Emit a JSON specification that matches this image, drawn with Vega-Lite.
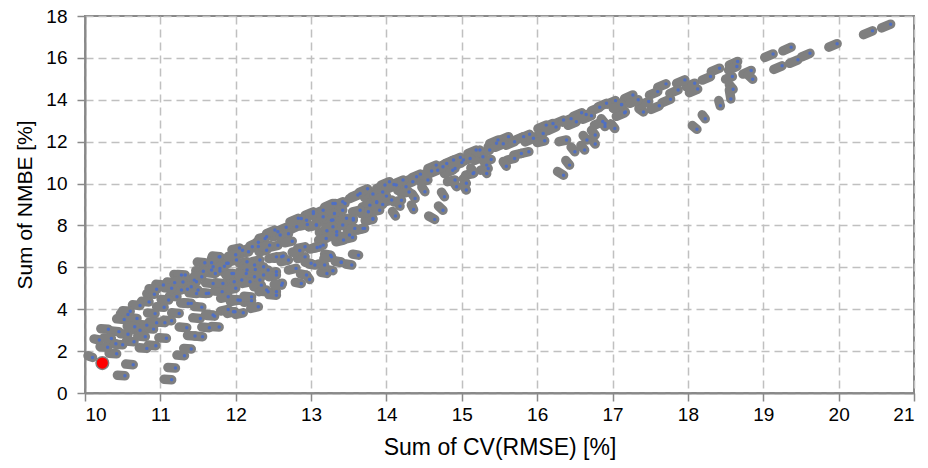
{
  "$schema": "https://vega.github.io/schema/vega-lite/v6.json",
  "width": 829,
  "height": 377,
  "padding": {"left": 85, "top": 16, "right": 14, "bottom": 75},
  "autosize": {"type": "none"},
  "background": "white",
  "config": {
    "view": {"stroke": "#898989", "strokeWidth": 2},
    "axis": {
      "labelFont": "Liberation Sans",
      "titleFont": "Liberation Sans",
      "labelFontSize": 19,
      "titleFontSize": 21,
      "titleFontWeight": "normal",
      "labelColor": "#000000",
      "titleColor": "#000000",
      "domainColor": "#898989",
      "domainWidth": 2,
      "tickColor": "#898989",
      "tickWidth": 1.5,
      "tickSize": 8,
      "gridColor": "#c0c0c0",
      "gridDash": [8, 5],
      "gridWidth": 1.5
    }
  },
  "datasets": {
    "seg": [
      {"x":10.10,"y":1.70,"x2":10.04,"y2":1.78},
      {"x":10.53,"y":0.82,"x2":10.43,"y2":0.85},
      {"x":10.64,"y":1.35,"x2":10.54,"y2":1.38},
      {"x":11.15,"y":0.63,"x2":11.05,"y2":0.66},
      {"x":11.20,"y":1.19,"x2":11.10,"y2":1.22},
      {"x":11.32,"y":1.78,"x2":11.22,"y2":1.81},
      {"x":11.41,"y":2.10,"x2":11.31,"y2":2.13},
      {"x":11.35,"y":3.12,"x2":11.25,"y2":3.15},
      {"x":11.46,"y":2.72,"x2":11.36,"y2":2.75},
      {"x":11.56,"y":2.69,"x2":11.46,"y2":2.72},
      {"x":11.65,"y":3.12,"x2":11.55,"y2":3.15},
      {"x":11.72,"y":3.67,"x2":11.62,"y2":3.70},
      {"x":11.78,"y":3.15,"x2":11.68,"y2":3.18},
      {"x":11.53,"y":3.56,"x2":11.43,"y2":3.59},
      {"x":10.94,"y":2.26,"x2":10.84,"y2":2.29},
      {"x":10.82,"y":2.13,"x2":10.72,"y2":2.16},
      {"x":10.42,"y":1.87,"x2":10.32,"y2":1.90},
      {"x":10.41,"y":2.35,"x2":10.31,"y2":2.38},
      {"x":10.30,"y":2.18,"x2":10.20,"y2":2.21},
      {"x":10.19,"y":2.53,"x2":10.12,"y2":2.58},
      {"x":10.31,"y":3.04,"x2":10.21,"y2":3.07},
      {"x":10.45,"y":2.93,"x2":10.35,"y2":2.96},
      {"x":10.57,"y":2.80,"x2":10.47,"y2":2.83},
      {"x":10.65,"y":2.45,"x2":10.55,"y2":2.48},
      {"x":10.52,"y":3.51,"x2":10.42,"y2":3.54},
      {"x":10.73,"y":4.18,"x2":10.63,"y2":4.21},
      {"x":10.73,"y":3.00,"x2":10.63,"y2":3.03},
      {"x":10.91,"y":3.05,"x2":10.81,"y2":3.08},
      {"x":10.82,"y":3.24,"x2":10.72,"y2":3.27},
      {"x":10.93,"y":3.79,"x2":10.83,"y2":3.82},
      {"x":11.06,"y":3.36,"x2":10.96,"y2":3.39},
      {"x":11.08,"y":2.61,"x2":10.98,"y2":2.64},
      {"x":11.05,"y":4.09,"x2":10.95,"y2":4.12},
      {"x":10.92,"y":4.71,"x2":10.82,"y2":4.74},
      {"x":11.04,"y":5.16,"x2":10.94,"y2":5.19},
      {"x":11.19,"y":5.27,"x2":11.09,"y2":5.30},
      {"x":11.28,"y":5.63,"x2":11.18,"y2":5.66},
      {"x":11.36,"y":4.95,"x2":11.26,"y2":4.98},
      {"x":11.41,"y":4.28,"x2":11.31,"y2":4.31},
      {"x":11.22,"y":4.60,"x2":11.12,"y2":4.63},
      {"x":11.45,"y":5.39,"x2":11.35,"y2":5.42},
      {"x":11.57,"y":5.81,"x2":11.47,"y2":5.84},
      {"x":11.59,"y":6.22,"x2":11.49,"y2":6.25},
      {"x":11.70,"y":6.03,"x2":11.60,"y2":6.06},
      {"x":11.79,"y":6.51,"x2":11.69,"y2":6.54},
      {"x":11.79,"y":5.83,"x2":11.69,"y2":5.86},
      {"x":11.64,"y":4.76,"x2":11.54,"y2":4.79},
      {"x":11.82,"y":4.84,"x2":11.72,"y2":4.87},
      {"x":10.57,"y":3.75,"x2":10.47,"y2":3.78},
      {"x":10.69,"y":3.56,"x2":10.59,"y2":3.59},
      {"x":10.80,"y":2.69,"x2":10.70,"y2":2.72},
      {"x":10.66,"y":3.16,"x2":10.56,"y2":3.19},
      {"x":11.11,"y":4.44,"x2":11.01,"y2":4.47},
      {"x":11.28,"y":4.92,"x2":11.18,"y2":4.95},
      {"x":11.50,"y":4.92,"x2":11.40,"y2":4.95},
      {"x":11.73,"y":5.71,"x2":11.63,"y2":5.74},
      {"x":11.90,"y":6.19,"x2":11.80,"y2":6.22},
      {"x":11.95,"y":5.71,"x2":11.85,"y2":5.74},
      {"x":11.98,"y":5.31,"x2":11.88,"y2":5.23},
      {"x":12.08,"y":5.40,"x2":11.98,"y2":5.32},
      {"x":12.15,"y":6.27,"x2":12.05,"y2":6.19},
      {"x":12.05,"y":6.92,"x2":11.95,"y2":6.84},
      {"x":12.30,"y":6.99,"x2":12.20,"y2":6.91},
      {"x":12.41,"y":7.46,"x2":12.31,"y2":7.38},
      {"x":12.56,"y":7.70,"x2":12.46,"y2":7.62},
      {"x":12.56,"y":7.05,"x2":12.46,"y2":6.97},
      {"x":12.15,"y":5.87,"x2":12.05,"y2":5.79},
      {"x":12.26,"y":5.90,"x2":12.16,"y2":5.82},
      {"x":12.32,"y":5.40,"x2":12.22,"y2":5.32},
      {"x":12.43,"y":5.87,"x2":12.33,"y2":5.79},
      {"x":12.61,"y":6.51,"x2":12.51,"y2":6.43},
      {"x":12.54,"y":5.79,"x2":12.44,"y2":5.71},
      {"x":12.62,"y":5.24,"x2":12.52,"y2":5.16},
      {"x":12.41,"y":4.92,"x2":12.31,"y2":4.84},
      {"x":12.54,"y":4.84,"x2":12.44,"y2":4.76},
      {"x":12.21,"y":4.41,"x2":12.11,"y2":4.33},
      {"x":12.30,"y":4.12,"x2":12.20,"y2":4.04},
      {"x":12.03,"y":4.44,"x2":11.93,"y2":4.36},
      {"x":12.10,"y":3.83,"x2":12.00,"y2":3.75},
      {"x":11.99,"y":3.88,"x2":11.89,"y2":3.80},
      {"x":11.90,"y":3.99,"x2":11.80,"y2":3.91},
      {"x":13.65,"y":9.53,"x2":13.54,"y2":9.36},
      {"x":13.82,"y":9.50,"x2":13.71,"y2":9.33},
      {"x":13.87,"y":9.10,"x2":13.76,"y2":8.93},
      {"x":13.82,"y":8.29,"x2":13.72,"y2":8.21},
      {"x":13.71,"y":7.86,"x2":13.61,"y2":7.78},
      {"x":13.63,"y":6.58,"x2":13.55,"y2":6.63},
      {"x":13.54,"y":6.11,"x2":13.46,"y2":6.16},
      {"x":13.40,"y":6.23,"x2":13.32,"y2":6.28},
      {"x":13.29,"y":5.84,"x2":13.21,"y2":5.89},
      {"x":13.21,"y":5.71,"x2":13.13,"y2":5.76},
      {"x":13.18,"y":6.11,"x2":13.10,"y2":6.16},
      {"x":13.26,"y":6.58,"x2":13.18,"y2":6.63},
      {"x":13.16,"y":7.06,"x2":13.06,"y2":6.98},
      {"x":13.08,"y":6.95,"x2":12.98,"y2":6.87},
      {"x":13.05,"y":6.11,"x2":12.97,"y2":6.16},
      {"x":12.98,"y":5.42,"x2":12.94,"y2":5.62},
      {"x":12.94,"y":5.63,"x2":12.86,"y2":5.68},
      {"x":12.87,"y":5.23,"x2":12.79,"y2":5.28},
      {"x":13.43,"y":7.30,"x2":13.33,"y2":7.22},
      {"x":13.55,"y":7.43,"x2":13.45,"y2":7.35},
      {"x":13.34,"y":7.70,"x2":13.24,"y2":7.62},
      {"x":13.21,"y":7.75,"x2":13.11,"y2":7.67},
      {"x":13.07,"y":8.02,"x2":12.97,"y2":7.94},
      {"x":13.03,"y":8.65,"x2":12.92,"y2":8.48},
      {"x":13.16,"y":8.73,"x2":13.05,"y2":8.56},
      {"x":13.32,"y":9.05,"x2":13.21,"y2":8.88},
      {"x":13.45,"y":9.05,"x2":13.34,"y2":8.88},
      {"x":13.29,"y":8.26,"x2":13.19,"y2":8.18},
      {"x":13.47,"y":8.34,"x2":13.37,"y2":8.26},
      {"x":13.56,"y":8.26,"x2":13.46,"y2":8.18},
      {"x":12.81,"y":7.94,"x2":12.70,"y2":7.77},
      {"x":12.83,"y":8.34,"x2":12.72,"y2":8.17},
      {"x":12.67,"y":7.91,"x2":12.56,"y2":7.74},
      {"x":12.59,"y":7.54,"x2":12.49,"y2":7.46},
      {"x":12.52,"y":7.78,"x2":12.41,"y2":7.61},
      {"x":12.39,"y":7.38,"x2":12.28,"y2":7.21},
      {"x":12.41,"y":6.82,"x2":12.31,"y2":6.74},
      {"x":12.32,"y":6.35,"x2":12.22,"y2":6.27},
      {"x":12.54,"y":6.50,"x2":12.44,"y2":6.42},
      {"x":12.63,"y":6.54,"x2":12.53,"y2":6.46},
      {"x":12.37,"y":6.03,"x2":12.27,"y2":5.95},
      {"x":12.22,"y":6.98,"x2":12.11,"y2":6.81},
      {"x":12.17,"y":6.74,"x2":12.07,"y2":6.66},
      {"x":12.09,"y":6.82,"x2":11.98,"y2":6.65},
      {"x":12.01,"y":6.35,"x2":11.91,"y2":6.27},
      {"x":11.88,"y":6.19,"x2":11.78,"y2":6.11},
      {"x":11.78,"y":6.50,"x2":11.68,"y2":6.42},
      {"x":11.68,"y":6.22,"x2":11.58,"y2":6.14},
      {"x":11.68,"y":5.87,"x2":11.58,"y2":5.79},
      {"x":11.79,"y":5.95,"x2":11.69,"y2":5.87},
      {"x":11.70,"y":5.23,"x2":11.60,"y2":5.26},
      {"x":11.48,"y":5.31,"x2":11.38,"y2":5.34},
      {"x":11.33,"y":5.63,"x2":11.23,"y2":5.66},
      {"x":11.41,"y":5.07,"x2":11.31,"y2":5.10},
      {"x":11.48,"y":4.75,"x2":11.38,"y2":4.78},
      {"x":11.37,"y":4.27,"x2":11.27,"y2":4.30},
      {"x":11.61,"y":4.75,"x2":11.51,"y2":4.78},
      {"x":11.83,"y":5.23,"x2":11.73,"y2":5.26},
      {"x":11.97,"y":5.71,"x2":11.87,"y2":5.63},
      {"x":12.14,"y":5.71,"x2":12.04,"y2":5.63},
      {"x":12.25,"y":5.55,"x2":12.15,"y2":5.47},
      {"x":12.37,"y":5.63,"x2":12.27,"y2":5.55},
      {"x":12.54,"y":5.63,"x2":12.44,"y2":5.55},
      {"x":12.19,"y":5.31,"x2":12.09,"y2":5.23},
      {"x":12.34,"y":5.15,"x2":12.24,"y2":5.07},
      {"x":12.43,"y":4.83,"x2":12.33,"y2":4.86},
      {"x":12.54,"y":4.67,"x2":12.44,"y2":4.70},
      {"x":12.61,"y":5.15,"x2":12.51,"y2":5.18},
      {"x":12.06,"y":4.43,"x2":11.96,"y2":4.46},
      {"x":12.21,"y":4.59,"x2":12.11,"y2":4.62},
      {"x":11.97,"y":3.88,"x2":11.87,"y2":3.91},
      {"x":11.70,"y":3.72,"x2":11.60,"y2":3.75},
      {"x":12.25,"y":6.11,"x2":12.15,"y2":6.03},
      {"x":15.19,"y":11.60,"x2":15.08,"y2":11.43},
      {"x":15.28,"y":11.28,"x2":15.17,"y2":11.11},
      {"x":15.39,"y":11.15,"x2":15.29,"y2":11.07},
      {"x":15.46,"y":11.92,"x2":15.35,"y2":11.75},
      {"x":15.35,"y":10.72,"x2":15.25,"y2":10.64},
      {"x":15.33,"y":10.48,"x2":15.29,"y2":10.70},
      {"x":15.15,"y":10.48,"x2":15.05,"y2":10.40},
      {"x":15.06,"y":10.01,"x2":15.02,"y2":10.23},
      {"x":15.06,"y":9.69,"x2":15.02,"y2":9.91},
      {"x":14.93,"y":9.85,"x2":14.89,"y2":10.07},
      {"x":14.77,"y":9.37,"x2":14.73,"y2":9.59},
      {"x":14.75,"y":8.73,"x2":14.69,"y2":8.93},
      {"x":14.64,"y":8.29,"x2":14.56,"y2":8.45},
      {"x":14.91,"y":10.17,"x2":14.81,"y2":10.09},
      {"x":14.88,"y":10.64,"x2":14.77,"y2":10.47},
      {"x":15.02,"y":11.12,"x2":14.91,"y2":10.95},
      {"x":14.80,"y":10.96,"x2":14.69,"y2":10.79},
      {"x":14.68,"y":10.64,"x2":14.57,"y2":10.47},
      {"x":14.66,"y":10.88,"x2":14.55,"y2":10.71},
      {"x":14.55,"y":10.17,"x2":14.45,"y2":10.09},
      {"x":14.51,"y":9.61,"x2":14.47,"y2":9.83},
      {"x":14.38,"y":9.29,"x2":14.34,"y2":9.51},
      {"x":14.36,"y":8.76,"x2":14.33,"y2":8.98},
      {"x":14.18,"y":8.92,"x2":14.14,"y2":9.14},
      {"x":14.12,"y":8.45,"x2":14.08,"y2":8.67},
      {"x":14.07,"y":9.21,"x2":13.97,"y2":9.13},
      {"x":14.13,"y":9.93,"x2":14.02,"y2":9.76},
      {"x":14.26,"y":9.85,"x2":14.15,"y2":9.68},
      {"x":14.35,"y":10.09,"x2":14.24,"y2":9.92},
      {"x":14.40,"y":10.33,"x2":14.29,"y2":10.16},
      {"x":14.22,"y":10.17,"x2":14.11,"y2":10.00},
      {"x":13.98,"y":9.93,"x2":13.87,"y2":9.76},
      {"x":14.04,"y":10.09,"x2":13.93,"y2":9.92},
      {"x":13.87,"y":9.13,"x2":13.77,"y2":9.05},
      {"x":13.91,"y":8.73,"x2":13.81,"y2":8.65},
      {"x":13.78,"y":8.97,"x2":13.68,"y2":8.89},
      {"x":13.82,"y":8.33,"x2":13.72,"y2":8.25},
      {"x":13.76,"y":8.65,"x2":13.66,"y2":8.57},
      {"x":13.62,"y":9.45,"x2":13.51,"y2":9.28},
      {"x":13.65,"y":8.73,"x2":13.55,"y2":8.65},
      {"x":13.56,"y":8.33,"x2":13.46,"y2":8.25},
      {"x":13.69,"y":7.86,"x2":13.59,"y2":7.78},
      {"x":13.58,"y":7.86,"x2":13.48,"y2":7.78},
      {"x":13.42,"y":9.13,"x2":13.31,"y2":8.96},
      {"x":13.42,"y":8.73,"x2":13.32,"y2":8.65},
      {"x":13.29,"y":9.05,"x2":13.18,"y2":8.88},
      {"x":13.31,"y":8.57,"x2":13.21,"y2":8.49},
      {"x":13.27,"y":8.25,"x2":13.17,"y2":8.17},
      {"x":13.42,"y":8.02,"x2":13.32,"y2":7.94},
      {"x":13.29,"y":7.94,"x2":13.19,"y2":7.86},
      {"x":13.16,"y":8.41,"x2":13.06,"y2":8.33},
      {"x":13.03,"y":8.57,"x2":12.92,"y2":8.40},
      {"x":13.07,"y":8.02,"x2":12.97,"y2":7.94},
      {"x":12.94,"y":8.25,"x2":12.83,"y2":8.08},
      {"x":12.87,"y":8.33,"x2":12.76,"y2":8.16},
      {"x":13.20,"y":7.38,"x2":13.10,"y2":7.30},
      {"x":13.34,"y":7.54,"x2":13.24,"y2":7.46},
      {"x":13.51,"y":7.54,"x2":13.41,"y2":7.46},
      {"x":13.12,"y":6.98,"x2":13.02,"y2":6.90},
      {"x":13.27,"y":6.50,"x2":13.17,"y2":6.42},
      {"x":13.40,"y":6.26,"x2":13.32,"y2":6.31},
      {"x":12.92,"y":6.98,"x2":12.82,"y2":6.90},
      {"x":12.92,"y":6.50,"x2":12.82,"y2":6.42},
      {"x":13.00,"y":6.19,"x2":12.92,"y2":6.24},
      {"x":17.27,"y":14.23,"x2":17.16,"y2":14.06},
      {"x":17.12,"y":13.78,"x2":17.01,"y2":13.61},
      {"x":17.04,"y":13.96,"x2":16.93,"y2":13.79},
      {"x":16.92,"y":13.83,"x2":16.81,"y2":13.66},
      {"x":16.83,"y":13.64,"x2":16.72,"y2":13.47},
      {"x":16.72,"y":13.24,"x2":16.61,"y2":13.07},
      {"x":16.59,"y":13.38,"x2":16.48,"y2":13.21},
      {"x":16.52,"y":12.95,"x2":16.41,"y2":12.78},
      {"x":16.35,"y":13.03,"x2":16.24,"y2":12.86},
      {"x":16.21,"y":12.87,"x2":16.10,"y2":12.70},
      {"x":16.12,"y":12.79,"x2":16.01,"y2":12.62},
      {"x":16.08,"y":12.39,"x2":15.97,"y2":12.22},
      {"x":15.95,"y":12.16,"x2":15.84,"y2":11.99},
      {"x":15.82,"y":12.24,"x2":15.71,"y2":12.07},
      {"x":15.70,"y":12.00,"x2":15.59,"y2":11.83},
      {"x":15.62,"y":12.24,"x2":15.51,"y2":12.07},
      {"x":15.48,"y":12.08,"x2":15.37,"y2":11.91},
      {"x":15.37,"y":11.60,"x2":15.26,"y2":11.43},
      {"x":15.24,"y":11.60,"x2":15.13,"y2":11.43},
      {"x":15.11,"y":11.20,"x2":15.00,"y2":11.03},
      {"x":14.98,"y":11.25,"x2":14.87,"y2":11.08},
      {"x":14.89,"y":11.12,"x2":14.78,"y2":10.95},
      {"x":14.91,"y":10.72,"x2":14.80,"y2":10.55},
      {"x":17.16,"y":13.38,"x2":17.05,"y2":13.21},
      {"x":17.03,"y":12.63,"x2":16.98,"y2":12.85},
      {"x":16.90,"y":12.87,"x2":16.85,"y2":13.09},
      {"x":16.77,"y":12.32,"x2":16.72,"y2":12.54},
      {"x":16.77,"y":11.89,"x2":16.72,"y2":12.11},
      {"x":16.66,"y":12.08,"x2":16.61,"y2":12.30},
      {"x":16.63,"y":11.60,"x2":16.58,"y2":11.82},
      {"x":16.50,"y":11.52,"x2":16.45,"y2":11.74},
      {"x":16.43,"y":10.88,"x2":16.38,"y2":11.10},
      {"x":16.35,"y":10.40,"x2":16.27,"y2":10.58},
      {"x":16.39,"y":12.08,"x2":16.29,"y2":12.00},
      {"x":16.10,"y":12.04,"x2":16.00,"y2":11.96},
      {"x":15.89,"y":11.52,"x2":15.79,"y2":11.44},
      {"x":15.79,"y":11.44,"x2":15.69,"y2":11.36},
      {"x":15.70,"y":11.20,"x2":15.60,"y2":11.12},
      {"x":15.59,"y":10.83,"x2":15.55,"y2":11.05},
      {"x":15.33,"y":10.88,"x2":15.29,"y2":11.10},
      {"x":15.16,"y":10.52,"x2":15.12,"y2":10.74},
      {"x":19.37,"y":16.51,"x2":19.26,"y2":16.34},
      {"x":19.13,"y":16.19,"x2":19.02,"y2":16.02},
      {"x":19.25,"y":15.62,"x2":19.14,"y2":15.45},
      {"x":19.46,"y":15.91,"x2":19.35,"y2":15.74},
      {"x":18.84,"y":15.40,"x2":18.73,"y2":15.23},
      {"x":18.86,"y":14.98,"x2":18.80,"y2":15.18},
      {"x":18.66,"y":15.83,"x2":18.55,"y2":15.66},
      {"x":18.65,"y":15.59,"x2":18.54,"y2":15.42},
      {"x":18.59,"y":15.11,"x2":18.50,"y2":14.98},
      {"x":18.60,"y":14.50,"x2":18.55,"y2":14.72},
      {"x":18.57,"y":14.04,"x2":18.55,"y2":14.47},
      {"x":18.43,"y":13.71,"x2":18.41,"y2":13.96},
      {"x":18.42,"y":15.51,"x2":18.31,"y2":15.34},
      {"x":18.30,"y":15.11,"x2":18.19,"y2":14.94},
      {"x":18.13,"y":14.51,"x2":18.02,"y2":14.34},
      {"x":18.09,"y":14.79,"x2":17.98,"y2":14.62},
      {"x":18.23,"y":13.09,"x2":18.19,"y2":13.28},
      {"x":18.12,"y":12.59,"x2":18.06,"y2":12.77},
      {"x":17.96,"y":14.95,"x2":17.85,"y2":14.78},
      {"x":17.87,"y":14.47,"x2":17.76,"y2":14.30},
      {"x":17.77,"y":14.03,"x2":17.66,"y2":13.86},
      {"x":17.71,"y":14.76,"x2":17.60,"y2":14.59},
      {"x":17.62,"y":13.71,"x2":17.51,"y2":13.54},
      {"x":17.60,"y":14.39,"x2":17.49,"y2":14.22},
      {"x":17.41,"y":13.42,"x2":17.35,"y2":13.58},
      {"x":17.48,"y":13.92,"x2":17.37,"y2":13.75},
      {"x":17.34,"y":14.00,"x2":17.23,"y2":13.83},
      {"x":17.17,"y":13.42,"x2":17.12,"y2":13.64},
      {"x":17.12,"y":13.76,"x2":17.01,"y2":13.59},
      {"x":16.90,"y":12.72,"x2":16.86,"y2":12.94},
      {"x":16.87,"y":12.96,"x2":16.76,"y2":12.79},
      {"x":20.69,"y":17.61,"x2":20.57,"y2":17.43},
      {"x":20.45,"y":17.29,"x2":20.33,"y2":17.11},
      {"x":19.98,"y":16.68,"x2":19.87,"y2":16.51},
      {"x":19.62,"y":16.22,"x2":19.51,"y2":16.05},
      {"x":13.75,"y":9.75,"x2":13.64,"y2":9.58},
      {"x":13.95,"y":9.60,"x2":13.84,"y2":9.43},
      {"x":14.10,"y":9.95,"x2":13.99,"y2":9.78},
      {"x":14.45,"y":10.45,"x2":14.34,"y2":10.28},
      {"x":14.60,"y":10.60,"x2":14.49,"y2":10.43},
      {"x":14.75,"y":10.80,"x2":14.64,"y2":10.63},
      {"x":15.00,"y":11.00,"x2":14.89,"y2":10.83},
      {"x":15.55,"y":11.90,"x2":15.44,"y2":11.73},
      {"x":15.90,"y":12.35,"x2":15.79,"y2":12.18},
      {"x":16.25,"y":12.70,"x2":16.14,"y2":12.53},
      {"x":16.45,"y":13.10,"x2":16.34,"y2":12.93},
      {"x":16.65,"y":13.30,"x2":16.54,"y2":13.13},
      {"x":14.00,"y":9.40,"x2":13.90,"y2":9.32},
      {"x":14.30,"y":9.60,"x2":14.20,"y2":9.52},
      {"x":14.20,"y":9.20,"x2":14.10,"y2":9.12},
      {"x":13.95,"y":9.00,"x2":13.85,"y2":8.92},
      {"x":10.35,"y":2.60,"x2":10.25,"y2":2.63},
      {"x":10.50,"y":2.30,"x2":10.40,"y2":2.33},
      {"x":10.60,"y":3.90,"x2":10.50,"y2":3.93},
      {"x":10.85,"y":4.35,"x2":10.75,"y2":4.38},
      {"x":10.95,"y":4.95,"x2":10.85,"y2":4.98},
      {"x":11.15,"y":5.00,"x2":11.05,"y2":5.03},
      {"x":11.30,"y":5.30,"x2":11.20,"y2":5.33},
      {"x":11.55,"y":5.55,"x2":11.45,"y2":5.58},
      {"x":11.85,"y":6.05,"x2":11.75,"y2":5.97},
      {"x":12.00,"y":6.60,"x2":11.90,"y2":6.52},
      {"x":12.30,"y":7.20,"x2":12.19,"y2":7.03},
      {"x":12.45,"y":7.05,"x2":12.35,"y2":6.97},
      {"x":12.70,"y":7.60,"x2":12.59,"y2":7.43},
      {"x":12.95,"y":8.05,"x2":12.85,"y2":7.97},
      {"x":12.75,"y":7.25,"x2":12.65,"y2":7.17},
      {"x":12.85,"y":6.80,"x2":12.75,"y2":6.72},
      {"x":12.70,"y":6.35,"x2":12.60,"y2":6.27},
      {"x":12.80,"y":5.95,"x2":12.70,"y2":5.87},
      {"x":12.00,"y":5.00,"x2":11.90,"y2":4.92},
      {"x":11.90,"y":4.60,"x2":11.80,"y2":4.52},
      {"x":11.55,"y":4.10,"x2":11.45,"y2":4.13},
      {"x":11.25,"y":3.80,"x2":11.15,"y2":3.83},
      {"x":11.15,"y":3.45,"x2":11.05,"y2":3.48},
      {"x":10.95,"y":3.35,"x2":10.85,"y2":3.38}
    ],
    "best": [{"x": 10.23, "y": 1.43}]
  },
  "layer": [
    {
      "data": {"name": "seg"},
      "mark": {"type": "rule", "color": "#7f7f7f", "strokeWidth": 9.5, "strokeCap": "round"},
      "encoding": {
        "x": {"field": "x", "type": "quantitative", "scale": {"domain": [10, 21], "nice": false, "zero": false},
          "axis": {"title": "Sum of CV(RMSE) [%]", "titleFontSize": 23, "format": "d", "values": [10,11,12,13,14,15,16,17,18,19,20,21], "labelPadding": 4, "titlePadding": 12}},
        "y": {"field": "y", "type": "quantitative", "scale": {"domain": [0, 18], "nice": false, "zero": false},
          "axis": {"title": "Sum of NMBE [%]", "format": "d", "values": [0,2,4,6,8,10,12,14,16,18], "labelPadding": 10, "titlePadding": 10}},
        "x2": {"field": "x2"},
        "y2": {"field": "y2"}
      }
    },
    {
      "data": {"name": "seg"},
      "mark": {"type": "point", "filled": true, "color": "#4f6fc4", "size": 12, "opacity": 1},
      "encoding": {
        "x": {"field": "x", "type": "quantitative"},
        "y": {"field": "y", "type": "quantitative"}
      }
    },
    {
      "data": {"name": "best"},
      "mark": {"type": "point", "filled": true, "fill": "#ff0000", "stroke": "#7f7f7f", "strokeWidth": 1.5, "size": 160, "opacity": 1},
      "encoding": {
        "x": {"field": "x", "type": "quantitative"},
        "y": {"field": "y", "type": "quantitative"}
      }
    }
  ]
}
